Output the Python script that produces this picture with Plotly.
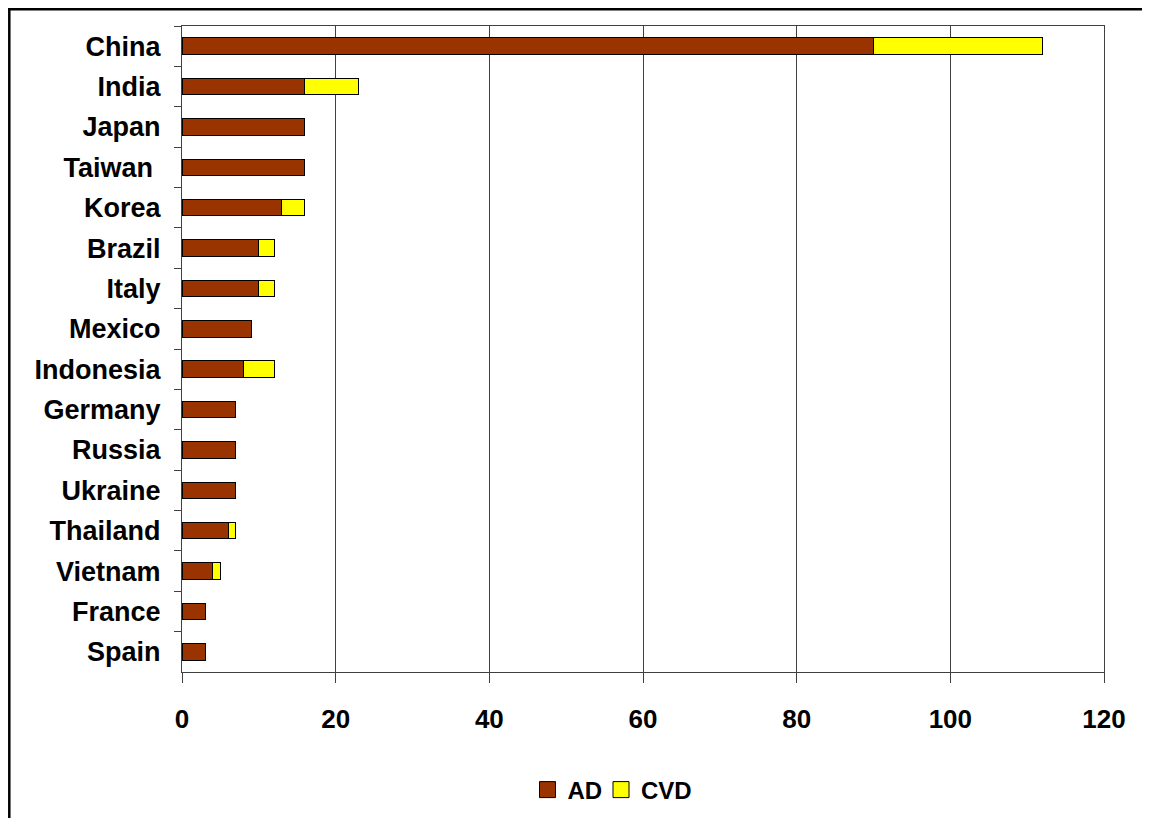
import plotly.graph_objects as go

countries = ["China", "India", "Japan", "Taiwan ", "Korea", "Brazil", "Italy", "Mexico",
             "Indonesia", "Germany", "Russia", "Ukraine", "Thailand", "Vietnam", "France", "Spain"]
ad = [90, 16, 16, 16, 13, 10, 10, 9, 8, 7, 7, 7, 6, 4, 3, 3]
cvd = [22, 7, 0, 0, 3, 2, 2, 0, 4, 0, 0, 0, 1, 1, 0, 0]
x_ticks = [0, 20, 40, 60, 80, 100, 120]
series_names = ["AD", "CVD"]
series_colors = ["#993300", "#FFFF00"]

FONT = "Liberation Sans, Arial, sans-serif"

fig = go.Figure()
for name, vals, col in zip(series_names, [ad, cvd], series_colors):
    fig.add_trace(go.Bar(y=countries, x=vals, orientation="h", name=name, showlegend=False,
                         marker=dict(color=col, line=dict(color="#000000", width=1))))
# legend entries (bigger square swatches), one legend box per series
for name, col, lg in zip(series_names, series_colors, ["legend", "legend2"]):
    fig.add_trace(go.Scatter(x=[None], y=[None], mode="markers", name=name, showlegend=True,
                             legend=lg,
                             marker=dict(symbol="square", size=16, color=col,
                                         line=dict(color="#000000", width=1))))

# page has 8px body offset; figure coordinates = page - 8
OFF = 8
W, H = 1150 - OFF, 818 - OFF
ml, mr, mt, mb = 182 - OFF, 46, 26 - OFF, 146
pw, ph = W - ml - mr, H - mt - mb

def px_x(px):
    return (px - OFF - ml) / pw

def px_y(py):
    return (H - mb - (py - OFF)) / ph

legend_style = dict(orientation="h", xanchor="left", y=px_y(790), yanchor="middle",
                    font=dict(family=FONT, size=24, weight="bold", color="black"),
                    itemsizing="trace", bgcolor="rgba(0,0,0,0)")

fig.update_layout(
    width=W, height=H,
    margin=dict(l=ml, r=mr, t=mt, b=mb, pad=0, autoexpand=False),
    barmode="stack",
    bargap=0.59,
    plot_bgcolor="white",
    paper_bgcolor="white",
    font=dict(family=FONT, color="black"),
    showlegend=True,
    legend=dict(x=px_x(527.5), **legend_style),
    legend2=dict(x=px_x(601), **legend_style),
    xaxis=dict(range=[0, 120], tickvals=x_ticks, showgrid=True, gridcolor="#404040", gridwidth=1,
               showline=True, linecolor="#404040", linewidth=1, mirror=True,
               ticks="outside", ticklen=10, tickcolor="#404040", ticklabelstandoff=14,
               tickfont=dict(family=FONT, size=26, weight="bold", color="black"),
               zeroline=False, automargin=False),
    yaxis=dict(categoryorder="array", categoryarray=countries, autorange="reversed",
               showline=True, linecolor="#404040", linewidth=1, mirror=True,
               ticks="outside", ticklen=7, tickcolor="#404040", tickson="boundaries",
               ticklabelstandoff=15,
               tickfont=dict(family=FONT, size=27, weight="bold", color="black"),
               showgrid=False, automargin=False),
    shapes=[
        dict(type="line", xref="paper", yref="paper",
             x0=px_x(8), x1=px_x(1150), y0=px_y(9.3), y1=px_y(9.3),
             line=dict(color="black", width=2.5)),
        dict(type="line", xref="paper", yref="paper",
             x0=px_x(9.3), x1=px_x(9.3), y0=px_y(8), y1=px_y(818),
             line=dict(color="black", width=2.5)),
    ],
)

fig.write_html("out.html")
